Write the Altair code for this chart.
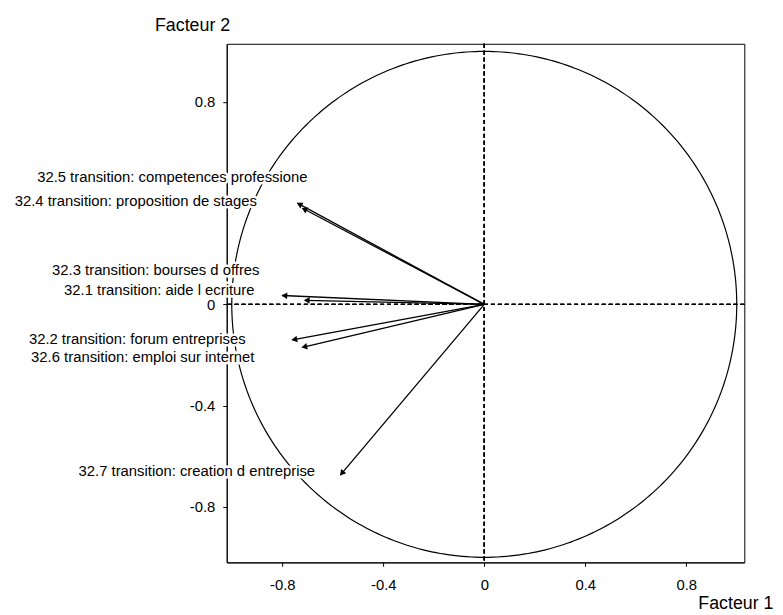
import altair as alt
import pandas as pd

# Variables (correlation circle)
labels = [
    "32.5 transition: competences professione",
    "32.4 transition: proposition de stages",
    "32.3 transition: bourses d offres",
    "32.1 transition: aide l ecriture",
    "32.2 transition: forum entreprises",
    "32.6 transition: emploi sur internet",
    "32.7 transition: creation d entreprise",
]
fact1 = [-0.74, -0.72, -0.80, -0.71, -0.76, -0.72, -0.57]
fact2 = [0.40, 0.38, 0.035, 0.016, -0.14, -0.17, -0.675]
# label anchor (right end of text) in factor units
lab_x = [-0.70, -0.90, -0.89, -0.91, -0.945, -0.91, -0.67]
lab_y = [0.505, 0.41, 0.135, 0.058, -0.137, -0.207, -0.66]

x_ticks = [-0.8, -0.4, 0, 0.4, 0.8]
y_ticks = [-0.8, -0.4, 0, 0.8]

df = pd.DataFrame({"label": labels, "x": fact1, "y": fact2, "lx": lab_x, "ly": lab_y})

FONT = "Liberation Sans"
xs = alt.Scale(domain=[-1.02, 1.03], nice=False, zero=False)
ys = alt.Scale(domain=[-1.02, 1.03], nice=False, zero=False)

xaxis = alt.Axis(values=x_ticks, title="Facteur 1", grid=False, domainColor="black",
                 tickColor="black", tickSize=4, labelPadding=11, labelFontSize=15,
                 labelFont=FONT, labelColor="black", labelFlush=False,
                 titleFont=FONT, titleFontSize=18, titleFontWeight="normal", titleColor="black",
                 titleX=514, titleY=47, titleAlign="center", titleBaseline="alphabetic",
                 labelExpr="toString(datum.value)")
yaxis = alt.Axis(values=y_ticks, title="Facteur 2", grid=False, domainColor="black",
                 tickColor="black", tickSize=4, labelPadding=8, labelFontSize=15,
                 labelFont=FONT, labelColor="black", labelFlush=False,
                 titleFont=FONT, titleFontSize=18, titleFontWeight="normal", titleColor="black",
                 titleAngle=0, titleX=-35, titleY=-13, titleAlign="center",
                 titleBaseline="alphabetic",
                 labelExpr="toString(datum.value)")

base = alt.Chart(df)

# unit circle drawn from a generated sequence of angles
circle = alt.Chart(alt.sequence(0, 361, 1, as_="deg")).transform_calculate(
    cx="cos(datum.deg * PI / 180)", cy="sin(datum.deg * PI / 180)"
).mark_line(color="black", strokeWidth=1.2).encode(
    x=alt.X("cx:Q", scale=xs, axis=xaxis),
    y=alt.Y("cy:Q", scale=ys, axis=yaxis),
    order="deg:Q",
)

hline = alt.Chart(df).mark_rule(color="black", strokeDash=[4, 3], strokeWidth=1).encode(
    y=alt.datum(0, scale=ys)
)
vline = alt.Chart(df).mark_rule(color="black", strokeDash=[4, 3], strokeWidth=1).encode(
    x=alt.datum(0, scale=xs)
)

arrows = base.transform_calculate(x0="0", y0="0").mark_rule(color="black", strokeWidth=1.3).encode(
    x=alt.X("x0:Q", scale=xs), y=alt.Y("y0:Q", scale=ys), x2="x:Q", y2="y:Q"
)

heads = base.transform_calculate(
    hx="datum.x * 0.985", hy="datum.y * 0.985",
    ang="(atan2(datum.x, datum.y) * 180 / PI + 360) % 360",
).mark_point(shape="triangle", filled=True, color="black", size=45, opacity=1).encode(
    x=alt.X("hx:Q", scale=xs), y=alt.Y("hy:Q", scale=ys), angle=alt.Angle("ang:Q", scale=None)
)

halo = base.mark_text(align="right", baseline="middle", font=FONT, fontSize=15,
                      fill="white", stroke="white", strokeWidth=5).encode(
    x=alt.X("lx:Q", scale=xs), y=alt.Y("ly:Q", scale=ys), text="label:N"
)
texts = base.mark_text(align="right", baseline="middle", font=FONT, fontSize=15,
                       color="black").encode(
    x=alt.X("lx:Q", scale=xs), y=alt.Y("ly:Q", scale=ys), text="label:N"
)

chart = alt.layer(circle, hline, vline, arrows, heads, halo, texts).properties(
    width=523, height=524,
    autosize=alt.AutoSizeParams(type="none"),
    padding={"left": 221, "top": 33, "right": 31, "bottom": 50},
    background="white",
).configure_view(stroke="black", strokeWidth=1)

chart.save("out.html", embed_options={"renderer": "svg", "actions": False})
